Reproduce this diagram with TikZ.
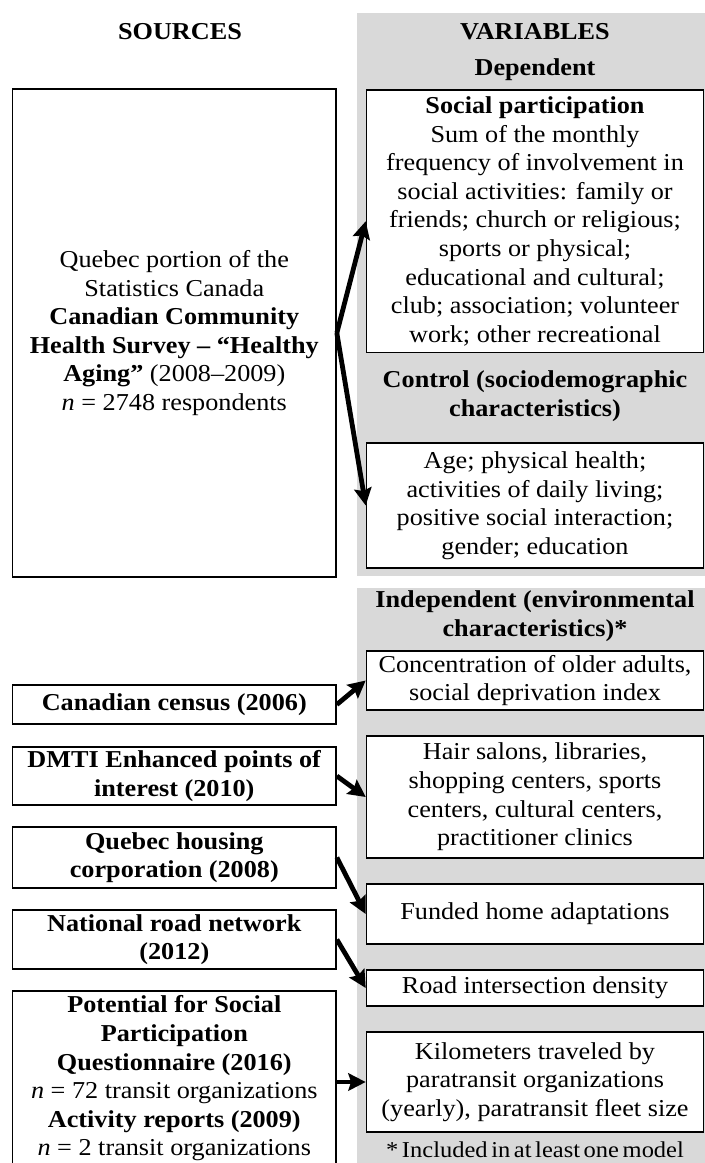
\documentclass[tikz,border=0pt]{standalone}
\usepackage{fontspec}
\setmainfont[FakeStretch=1.08]{Liberation Serif}
\usetikzlibrary{arrows.meta}
\newcommand{\bodyfont}{\fontsize{18.2}{21.45}\selectfont}
\definecolor{panelgray}{RGB}{217,217,217}
\tikzset{
  box/.style={draw, line width=1.2pt, fill=white, inner sep=0pt, align=center, font=\bodyfont},
  lbox/.style={box, minimum width=242.6pt},
  rbox/.style={box, minimum width=252.75pt},
  heading/.style={inner sep=0pt, align=center, font=\bodyfont\bfseries},
  arr/.style={line width=3.6pt, -{Stealth[length=13pt,width=13pt,inset=2pt]}},
}
\begin{document}
\begin{tikzpicture}[x=0.75pt,y=-0.75pt]
\useasboundingbox (0,0) rectangle (705,1163);
% gray panels
\fill[panelgray] (356.5,13) rectangle (705,576);
\fill[panelgray] (356.5,588) rectangle (705,1163);
% headings
\node[heading] (hsrc) at (180,32) {SOURCES};
\node[heading] (hvar) at (535,32) {VARIABLES};
\node[heading] (hdep) at (535,70) {Dependent};
\node[heading] (hctl) at (535,396) {Control (sociodemographic\\characteristics)};
\node[heading] (hind) at (535,616) {Independent (environmental\\characteristics)*};
% source boxes
\node[lbox, minimum height=366pt] (big) at (174.3,333) {Quebec portion of the\\Statistics Canada\\\textbf{Canadian Community}\\\textbf{Health Survey – “Healthy}\\\textbf{Aging”} (2008–2009)\\\textit{n}~=~2748 respondents};
\node[lbox, minimum height=29.25pt] (census) at (174.3,704.5) {\textbf{Canadian census (2006)}};
\node[lbox, minimum height=43.5pt] (dmti) at (174.3,776) {\textbf{DMTI Enhanced points of}\\\textbf{interest (2010)}};
\node[lbox, minimum height=45.75pt] (qh) at (174.3,857.5) {\textbf{Quebec housing}\\\textbf{corporation (2008)}};
\node[lbox, minimum height=44.25pt] (nat) at (174.3,939.5) {\textbf{National road network}\\\textbf{(2012)}};
\node[lbox, minimum height=131pt] (pot) at (174.3,1078.5) {\textbf{Potential for Social}\\\textbf{Participation}\\\textbf{Questionnaire (2016)}\\\textit{n}~=~72 transit organizations\\\textbf{Activity reports (2009)}\\\textit{n}~=~2 transit organizations};
% variable boxes
\node[rbox, minimum height=197pt] (social) at (535,221.3) {\textbf{Social participation}\\Sum of the monthly\\frequency of involvement in\\social activities: family or\\friends; church or religious;\\sports or physical;\\educational and cultural;\\club; association; volunteer\\work; other recreational};
\node[rbox, minimum height=93.75pt] (age) at (535,505.5) {Age; physical health;\\activities of daily living;\\positive social interaction;\\gender; education};
\node[rbox, minimum height=44.25pt] (conc) at (535,680.5) {Concentration of older adults,\\social deprivation index};
\node[rbox, minimum height=91.5pt] (hair) at (535,797) {Hair salons, libraries,\\shopping centers, sports\\centers, cultural centers,\\practitioner clinics};
\node[rbox, minimum height=45pt] (funded) at (535,914) {Funded home adaptations};
\node[rbox, minimum height=27pt] (road) at (535,988) {Road intersection density};
\node[rbox, minimum height=75pt] (km) at (535,1082) {Kilometers traveled by\\paratransit organizations\\(yearly), paratransit fleet size};
\node[inner sep=0pt, font=\fontsize{17}{20}\selectfont] (foot) at (535,1150) {\spaceskip=0.16em * Included in at least one model};
% arrows
\draw[arr] (big.east) -- (social.west);
\draw[arr] (big.east) -- (age.west);
\draw[arr] (census.east) -- (conc.west);
\draw[arr] (dmti.east) -- (hair.west);
\draw[arr] (qh.east) -- (funded.west);
\draw[arr] (nat.east) -- (road.west);
\draw[arr] (pot.east |- km.west) -- (km.west);
\end{tikzpicture}
\end{document}
